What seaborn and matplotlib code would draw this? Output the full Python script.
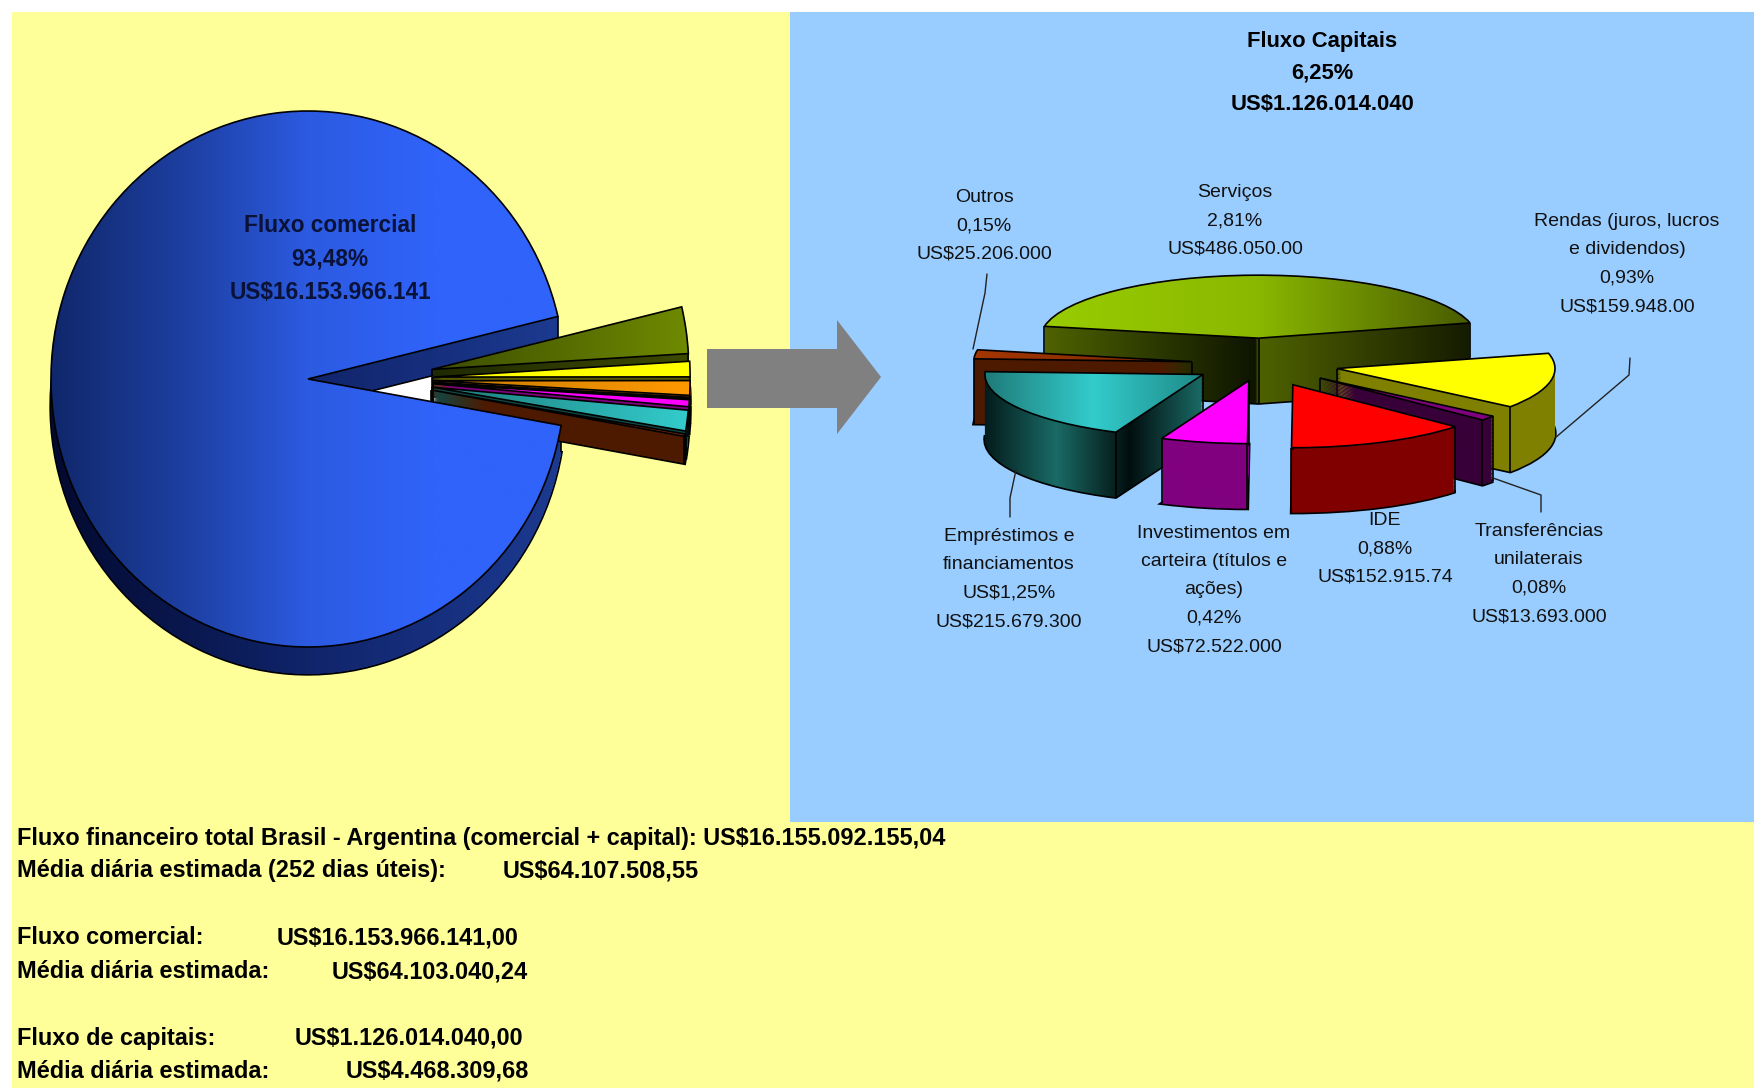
import numpy as np
import seaborn as sns
import matplotlib.pyplot as plt
from matplotlib.path import Path
from matplotlib.patches import PathPatch, Polygon, Rectangle, Wedge

sns.set_theme(style="white")
plt.rcParams["font.family"] = ["Liberation Sans", "DejaVu Sans"]

W, H = 1754, 1088
YELLOW = "#FFFF99"
BLUE = "#99CCFF"

# left pie: share of the total flow (%)
left_names = ["Fluxo comercial", "Outros", "Empréstimos", "Investimentos",
              "Transferências", "IDE", "Rendas", "Serviços"]
left_values = [93.48, 0.15, 1.25, 0.42, 0.08, 0.88, 0.93, 2.81]
left_explode = [0, .487, .487, .487, .487, .487, .487, .487]
left_order = [0, 7, 6, 5, 4, 3, 2, 1]
left_top = [["#10276a", "#1c3e9e", "#2c5ae0", "#3063fa", "#3063fa"], ["#a33600", "#7a2800"],
            ["#1c7a78", "#33cccc"], ["#ff00ff"] * 2, ["#800080"] * 2,
            ["#c67a00", "#ff9900"], ["#ffff00"] * 2, ["#3d4d00", "#6f8a00"]]
left_side = [["#030a30", "#10246a", "#1c3a90"], ["#4d1a00"] * 2, ["#0f4a48"] * 2,
             ["#800080"] * 2, ["#330033"] * 2, ["#7a4400"] * 2, ["#5a5a00"] * 2,
             ["#202a00", "#3c4a00"]]

# right pie: share of the total flow (%)
right_names = ["Serviços", "Outros", "Empréstimos", "Investimentos", "IDE",
               "Transferências", "Rendas"]
right_values = [2.81, 0.15, 1.25, 0.42, 0.88, 0.08, 0.93]
right_explode = [.41, .32, .314, .27, .36, .35, .356]
right_order = [0, 1, 6, 5, 2, 3, 4]
right_top = [["#99cc00", "#8ab800", "#4a5c00"], ["#a33600", "#7a2800"],
             ["#1e7a78", "#33cccc", "#1e8a88"], ["#ff00ff"] * 2, ["#ff0000"] * 2,
             ["#800080"] * 2, ["#ffff00"] * 2]
right_side = [[["#4f6200", "#0e1400"], ["#4f6200", "#161c00"]], [["#4d1a00"] * 2],
              [["#031a1a", "#1a6b66", "#020f0f"], ["#020f0f", "#1a6b66"]],
              [["#800080"] * 2], [["#800000"] * 2], [["#380038"] * 2],
              [["#808000"] * 2]]

title_lines = "Fluxo Capitais\n6,25%\nUS$1.126.014.040"
left_label = "Fluxo comercial\n93,48%\nUS$16.153.966.141"
slice_labels = [
    ("Outros\n0,15%\nUS$25.206.000", 984, 226),
    ("Serviços\n2,81%\nUS$486.050.00", 1235, 221),
    ("Rendas (juros, lucros\ne dividendos)\n0,93%\nUS$159.948.00", 1627, 264),
    ("Empréstimos e\nfinanciamentos\nUS$1,25%\nUS$215.679.300", 1009, 579),
    ("Investimentos em\ncarteira (títulos e\nações)\n0,42%\nUS$72.522.000", 1214, 590),
    ("IDE\n0,88%\nUS$152.915.74", 1385, 549),
    ("Transferências\nunilaterais\n0,08%\nUS$13.693.000", 1539, 574),
]
leaders = [
    ([987, 985, 973], [274, 293, 349]),
    ([1010, 1010, 1016], [517, 498, 470]),
    ([1630, 1629, 1555], [358, 375, 438]),
    ([1541, 1541, 1493], [512, 495, 478]),
]
summary_rows = [
    ("Fluxo financeiro total Brasil - Argentina (comercial + capital): US$16.155.092.155,04", None, None, 839),
    ("Média diária estimada (252 dias úteis):", "US$64.107.508,55", 503, 871),
    ("Fluxo comercial:", "US$16.153.966.141,00", 277, 938),
    ("Média diária estimada:", "US$64.103.040,24", 332, 972),
    ("Fluxo de capitais:", "US$1.126.014.040,00", 295, 1038),
    ("Média diária estimada:", "US$4.468.309,68", 346, 1071),
]


def ramp(stops):
    # stops is one colour list or a list of segments, each blended on its own
    segments = stops if isinstance(stops[0], list) else [stops]
    parts = [sns.blend_palette(s, 64 * (len(s) - 1)) for s in segments]
    return np.array(sum([list(p) for p in parts], []))[None, :, :]


def shaded(ax, path, stops, z):
    x0, x1 = path.vertices[:, 0].min(), path.vertices[:, 0].max()
    y0, y1 = path.vertices[:, 1].min(), path.vertices[:, 1].max()
    im = ax.imshow(ramp(stops), extent=(x0, x1, y0, y1), aspect="auto", zorder=z,
                   interpolation="bilinear")
    im.set_clip_path(path, transform=ax.transData)


def solid_pie(values, explode, start, cx, cy, rx, ry, depth, tops, sides, order, spread=1):
    ax = fig.add_axes([0, 0, 1, 1], facecolor="none")
    wedges, _ = ax.pie(values, explode=explode, startangle=start, radius=1)
    d = depth / ry
    for rank, i in enumerate(order):
        w = wedges[i]
        w.set_center((w.center[0], w.center[1] * spread))
        z = 10 + rank * 10
        top = Path(w.get_path().vertices.copy(), w.get_path().codes)
        low = Path(top.vertices + [0, -d], top.codes)
        stack = Path.make_compound_path(
            *[Path(top.vertices + [0, -o], top.codes) for o in np.linspace(0, d, 50)])
        ax.add_patch(PathPatch(low, fc="none", ec="black", lw=2.4, zorder=z))
        shaded(ax, stack, sides[i], z + 1)
        # vertical edges: the tip, and arc ends whose face turns to the viewer
        a1, a2 = np.radians([w.theta1, w.theta2])
        xs, ys = [w.center[0]], [w.center[1]]
        for a, front in ((a1, np.cos(a1) > 0), (a2, np.cos(a2) < 0)):
            if np.sin(a) < 0 or front:
                xs.append(w.center[0] + np.cos(a))
                ys.append(w.center[1] + np.sin(a))
        xs, ys = np.array(xs), np.array(ys)
        ax.vlines(xs, ys - d, ys, color="black", lw=1.2, zorder=z + 2)
        shaded(ax, top, tops[i], z + 3)
        w.set_facecolor("none")
        w.set_edgecolor("black")
        w.set_linewidth(1.2)
        w.set_zorder(z + 4)
    ax.set_aspect("auto")
    ax.set_xlim(-cx / rx, (W - cx) / rx)
    ax.set_ylim((cy - H) / ry, cy / ry)
    ax.set_axis_off()
    return ax


fig = plt.figure(figsize=(W / 100, H / 100), dpi=100, facecolor="white")

bg = fig.add_axes([0, 0, 1, 1])
bg.set_xlim(0, W)
bg.set_ylim(H, 0)
bg.set_axis_off()
bg.add_patch(Rectangle((12, 12), W - 12, H - 12, fc=YELLOW, ec="none"))
bg.add_patch(Rectangle((790, 12), W - 790, 810, fc=BLUE, ec="none"))

left_ax = solid_pie(left_values, left_explode, 13.5, 308, 379, 257, 268, 27,
                    left_top, left_side, left_order, spread=.5)
left_ax.add_patch(Wedge((0, 0), .55, -10.5, 13.5, fc="white", ec="none", zorder=5))

# the big slice's top face goes over the lower tips of the small ones
left_ax.images[1].set_zorder(200)
for w in left_ax.patches:
    if isinstance(w, Wedge) and w.r == 1 and w.theta2 - w.theta1 > 300:
        w.set_zorder(201)

solid_pie(right_values, right_explode, 14, 1261, 364, 218, 63, 65,
          right_top, right_side, right_order)

fg = fig.add_axes([0, 0, 1, 1], facecolor="none")
fg.set_xlim(0, W)
fg.set_ylim(H, 0)
fg.set_axis_off()

fg.add_patch(Polygon([(707, 349), (837, 349), (837, 320), (881, 377),
                      (837, 434), (837, 408), (707, 408)], fc="#808080", ec="none"))

fg.text(330, 259, left_label, ha="center", va="center", fontsize=16.3, fontweight="bold",
        color="#0a1238", linespacing=1.6, parse_math=False)
fg.text(1322, 73, title_lines, ha="center", va="center", fontsize=15.8, fontweight="bold",
        color="black", linespacing=1.63, parse_math=False)

for text, x, y in slice_labels:
    fg.text(x, y, text, ha="center", va="center", fontsize=14, color="#111111",
            linespacing=1.88, parse_math=False)

for xs, ys in leaders:
    fg.plot(xs, ys, color="#222222", lw=1)

for name, value, vx, y in summary_rows:
    fg.text(17, y, name, ha="left", va="center", fontsize=16.9, fontweight="bold",
            color="black", parse_math=False)
    if value:
        fg.text(vx, y, value, ha="left", va="center", fontsize=16.9, fontweight="bold",
                color="black", parse_math=False)

fig.savefig("out.png", dpi=100)
